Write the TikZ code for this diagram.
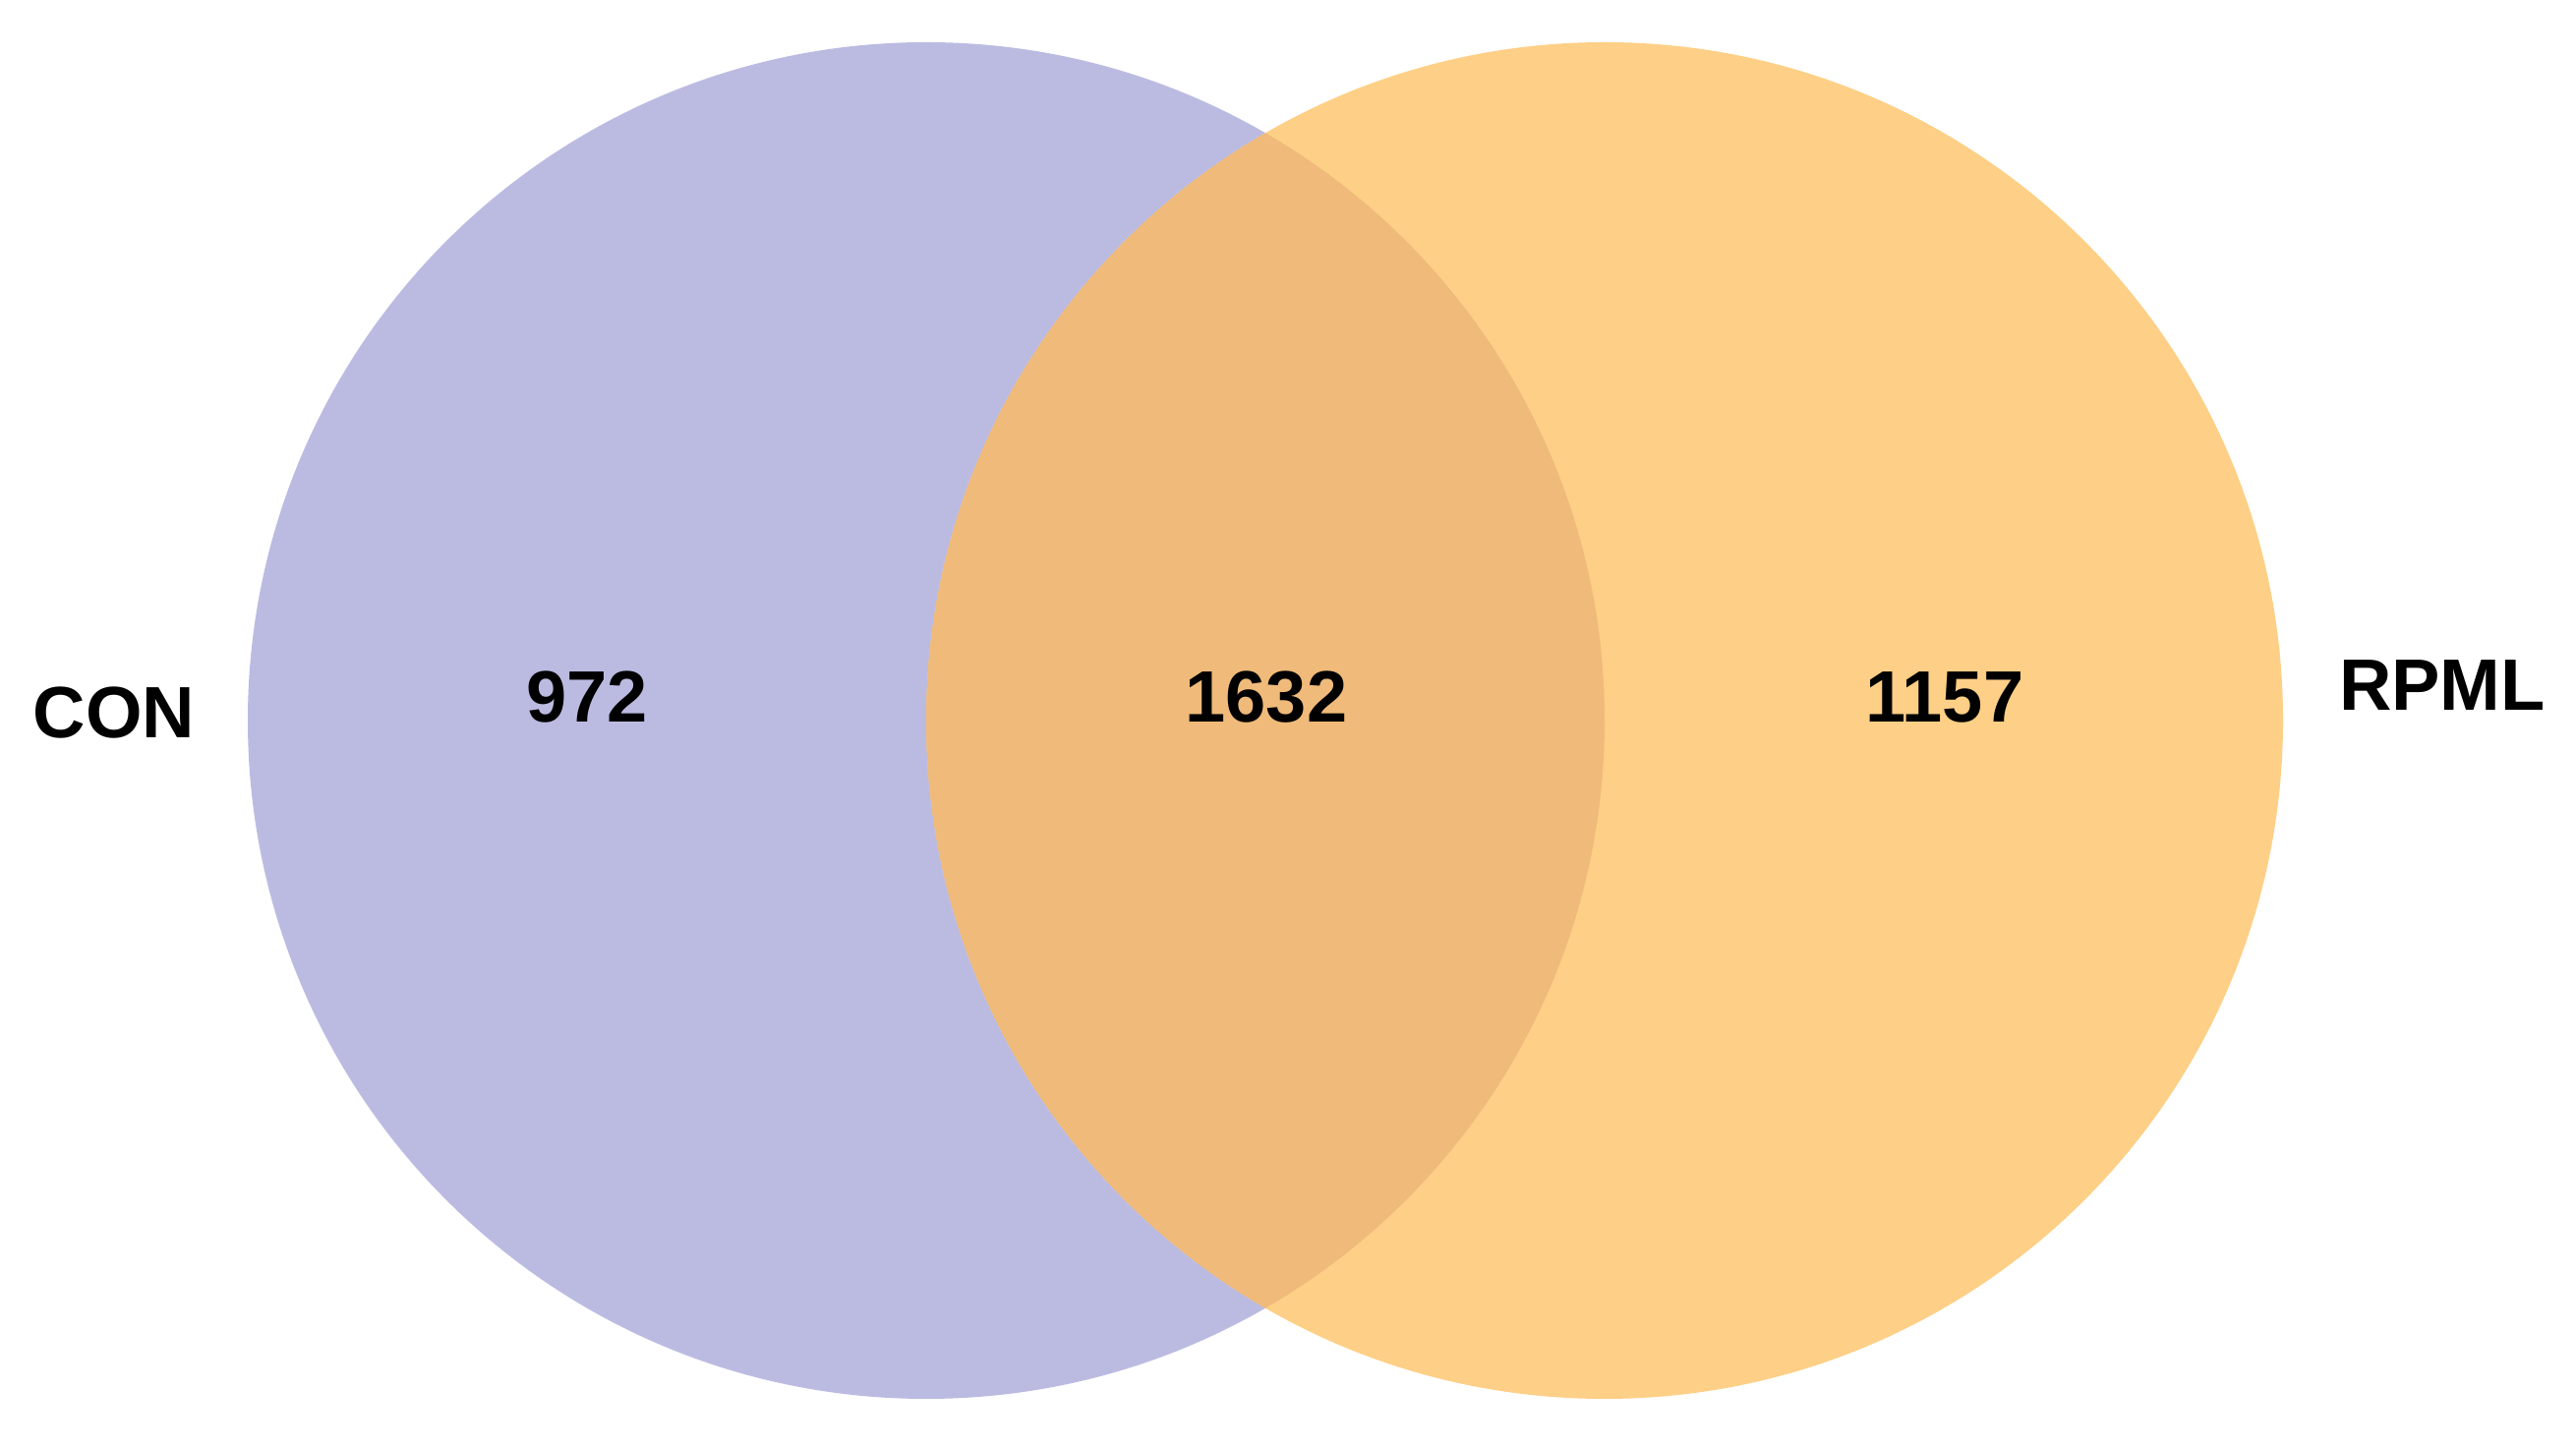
\documentclass[tikz,border=0pt]{standalone}
\usepackage{fontspec}
\setmainfont{Liberation Sans}
\definecolor{conpurple}{RGB}{187,187,226}
\definecolor{rpmlorange}{RGB}{254,207,134}
\definecolor{overlapcol}{RGB}{239,186,122}
\begin{document}
\begin{tikzpicture}[x=1pt,y=1pt,
  lbl/.style={inner sep=0pt, font=\fontsize{74}{80}\selectfont\bfseries, text=black}]
\useasboundingbox (0,0) rectangle (2620,1472);
\fill[white] (0,0) rectangle (2620,1472);
\coordinate (cl) at (942,739);
\coordinate (cr) at (1632,739);
\fill[conpurple] (cl) circle [radius=690pt];
\fill[rpmlorange] (cr) circle [radius=690pt];
\begin{scope}
  \clip (cl) circle [radius=690pt];
  \fill[overlapcol] (cr) circle [radius=690pt];
\end{scope}
\node[lbl] (con) at (116,747) {CON};
\node[lbl] (rpml) at (2484,775) {RPML};
\node[lbl] (nl) at (597,763) {972};
\node[lbl] (nm) at (1288,763) {1632};
\node[lbl] (nr) at (1978,763) {1157};
\end{tikzpicture}
\end{document}
